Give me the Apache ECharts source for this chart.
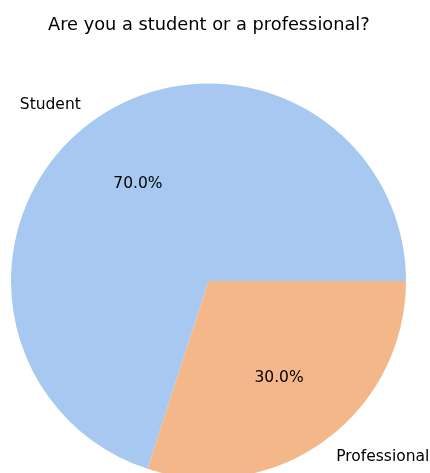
<!DOCTYPE html>
<html>
<head>
<meta charset="utf-8">
<script src="https://cdn.jsdelivr.net/npm/echarts@6/dist/echarts.min.js"></script>
<style>
  html, body { margin: 0; padding: 0; background: #fff; }
  #chart { width: 430px; height: 473px; }
</style>
</head>
<body>
<div id="chart"></div>
<script>
// Survey answers
const categories = ['Student', 'Professional'];
const shares = [70, 30];
const sliceColors = ['#a7c8f0', '#f4b78a'];

const FONT = 'DejaVu Sans';
const CX = 208.5, CY = 281, R = 197.5;

const total = shares.reduce((a, b) => a + b, 0);

// Shared layout for every ring: counter-clockwise from 3 o'clock
const base = {
  type: 'pie',
  center: [CX, CY],
  startAngle: 0,
  clockwise: false,
  minAngle: 0,
  avoidLabelOverlap: false,
  emphasis: { disabled: true },
  silent: true,
  animation: false
};

const chart = echarts.init(document.getElementById('chart'), null, { renderer: 'canvas' });
chart.setOption({
  backgroundColor: '#ffffff',
  title: {
    text: 'Are you a student or a professional?',
    left: 43,
    top: 11,
    textStyle: { fontFamily: FONT, fontSize: 17.8, fontWeight: 'normal', color: '#000' }
  },
  series: [
    // The visible slices, with category names just outside the rim
    Object.assign({}, base, {
      radius: [0, R],
      label: {
        show: true, position: 'outside', alignTo: 'none',
        distanceToLabelLine: 0,
        fontFamily: FONT, fontSize: 15.5, color: '#000',
        formatter: p => p.name
      },
      labelLine: { show: false, length: R * 0.1, length2: 0 },
      data: categories.map((name, i) => ({
        name, value: shares[i], itemStyle: { color: sliceColors[i] }
      }))
    }),
    // Percentage labels at 0.6 of the radius
    Object.assign({}, base, {
      radius: [0, R * 1.185],
      labelLine: { show: false },
      label: {
        show: true, position: 'inside',
        fontFamily: FONT, fontSize: 15.5, color: '#000',
        formatter: p => (p.value / total * 100).toFixed(1) + '%'
      },
      data: categories.map((name, i) => ({
        name, value: shares[i], itemStyle: { color: 'transparent' }
      }))
    })
  ]
});
</script>
</body>
</html>
